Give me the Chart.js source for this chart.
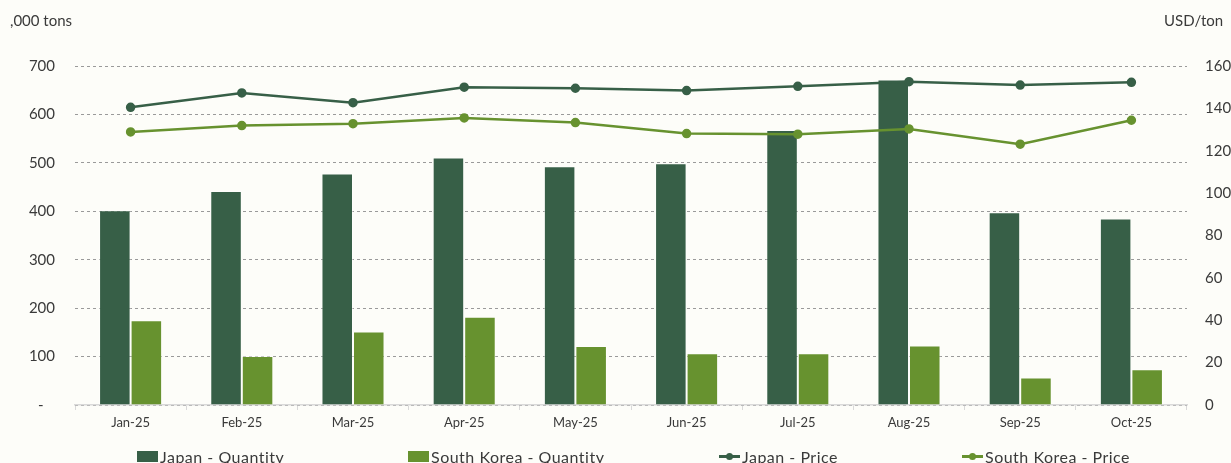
<!DOCTYPE html>
<html>
<head>
<meta charset="utf-8">
<script src="https://cdn.jsdelivr.net/npm/chart.js@4"></script>
<style>
  html, body { margin: 0; padding: 0; background: #fdfdf9; overflow: hidden; }
  #wrap { position: relative; width: 1231px; height: 463px; }
  #myChart { position: absolute; left: 0; top: 0; }
  .axis_title { position: absolute; font-family: Lato, sans-serif; font-size: 15px; color: #3a3a3a; }
  #legend { position: absolute; left: 0; top: 447px; width: 1231px; height: 20px;
            font-family: Lato, sans-serif; font-size: 16px; letter-spacing: 0.5px; color: #3a3a3a; white-space: nowrap; }
  .item { position: absolute; top: 0; display: flex; align-items: center; }
  .box { width: 21px; height: 11px; margin-right: 2px; }
  .ln { position: relative; width: 21px; height: 3px; margin-right: 2px; }
  .ln span { position: absolute; left: 7px; top: -2.5px; width: 7px; height: 7px; border-radius: 50%; }
</style>
</head>
<body>
<div id="wrap">
  <canvas id="myChart" width="1231" height="463"></canvas>
  <div class="axis_title" style="left:10px; top:11px;">,000 tons</div>
  <div class="axis_title" style="left:1164px; top:11px;">USD/ton</div>
  <div id="legend"></div>
</div>
<script>
const months = ["Jan-25", "Feb-25", "Mar-25", "Apr-25", "May-25", "Jun-25", "Jul-25", "Aug-25", "Sep-25", "Oct-25"];
const japan_qty = [402, 442, 478, 511, 493, 499, 568, 672, 398, 385];
const korea_qty = [175, 101, 152, 182, 122, 107, 107, 123, 57, 74];
const japan_price = [140.5, 147.3, 142.7, 150.0, 149.5, 148.4, 150.4, 152.6, 151.0, 152.3];
const korea_price = [128.9, 131.9, 132.8, 135.5, 133.3, 128.1, 127.8, 130.3, 123.1, 134.4];

const dark_green = "#375f47";
const light_green = "#67922f";
const font_name = "Lato, sans-serif";
const legend_x = [137, 408, 719, 962]; // where each legend entry starts

document.addEventListener("DOMContentLoaded", function () {
  const ctx = document.getElementById("myChart");
  window.myChart = new Chart(ctx, {
    type: "bar",
    data: {
      labels: months,
      datasets: [
        {
          label: "Japan - Quantity",
          data: japan_qty,
          backgroundColor: dark_green,
          borderColor: "rgba(255,255,255,0.45)",
          borderWidth: 1,
          yAxisID: "y",
          order: 2,
        },
        {
          label: "South Korea - Quantity",
          data: korea_qty,
          backgroundColor: light_green,
          borderColor: "rgba(255,255,255,0.45)",
          borderWidth: 1,
          yAxisID: "y",
          order: 2,
        },
        {
          type: "line",
          label: "Japan - Price",
          data: japan_price,
          borderColor: dark_green,
          backgroundColor: dark_green,
          borderWidth: 2.5,
          pointRadius: 3.5,
          yAxisID: "y1",
          order: 1,
        },
        {
          type: "line",
          label: "South Korea - Price",
          data: korea_price,
          borderColor: light_green,
          backgroundColor: light_green,
          borderWidth: 2.5,
          pointRadius: 3.5,
          yAxisID: "y1",
          order: 1,
        },
      ],
    },
    options: {
      responsive: false,
      animation: false,
      categoryPercentage: 0.567,
      barPercentage: 1.0,
      layout: { padding: { top: 66, bottom: 0, left: 0, right: 0 } },
      plugins: {
        legend: { display: false },
        tooltip: { enabled: false },
      },
      scales: {
        x: {
          grid: {
            drawOnChartArea: false,
            drawTicks: true,
            tickLength: 5,
            color: "#d9d9d9",
          },
          border: { color: "#d9d9d9", width: 1.5 },
          ticks: { color: "#3a3a3a", font: { family: font_name, size: 13 }, padding: 5 },
          afterFit: function (scale) { scale.height = 58; },
        },
        y: {
          position: "left",
          min: 0,
          max: 700,
          ticks: {
            stepSize: 100,
            color: "#3a3a3a",
            font: { family: font_name, size: 15 },
            padding: 20,
            callback: function (v) { return v === 0 ? "-   " : v; },
          },
          grid: { color: "#9a9a9a", drawTicks: false, lineWidth: 1 },
          border: { display: false, dash: [3, 3] },
          afterFit: function (scale) { scale.width = 75; },
        },
        y1: {
          position: "right",
          min: 0,
          max: 160,
          ticks: {
            stepSize: 20,
            color: "#3a3a3a",
            font: { family: font_name, size: 15 },
            padding: 18,
          },
          grid: { display: false, drawTicks: false },
          border: { display: false },
          afterFit: function (scale) { scale.width = 44; },
        },
      },
    },
  });

  // legend as html, spread out like the original
  const legend = document.getElementById("legend");
  window.myChart.data.datasets.forEach(function (ds, i) {
    var el = document.createElement("div");
    el.className = "item";
    el.style.left = legend_x[i] + "px";
    if (ds.type === "line") {
      el.innerHTML = '<div class="ln" style="background:' + ds.borderColor + '"><span style="background:' + ds.borderColor + '"></span></div>';
    } else {
      el.innerHTML = '<div class="box" style="background:' + ds.backgroundColor + '"></div>';
    }
    var txt = document.createElement("span");
    txt.textContent = ds.label;
    el.appendChild(txt);
    legend.appendChild(el);
  });
});
</script>
</body>
</html>
